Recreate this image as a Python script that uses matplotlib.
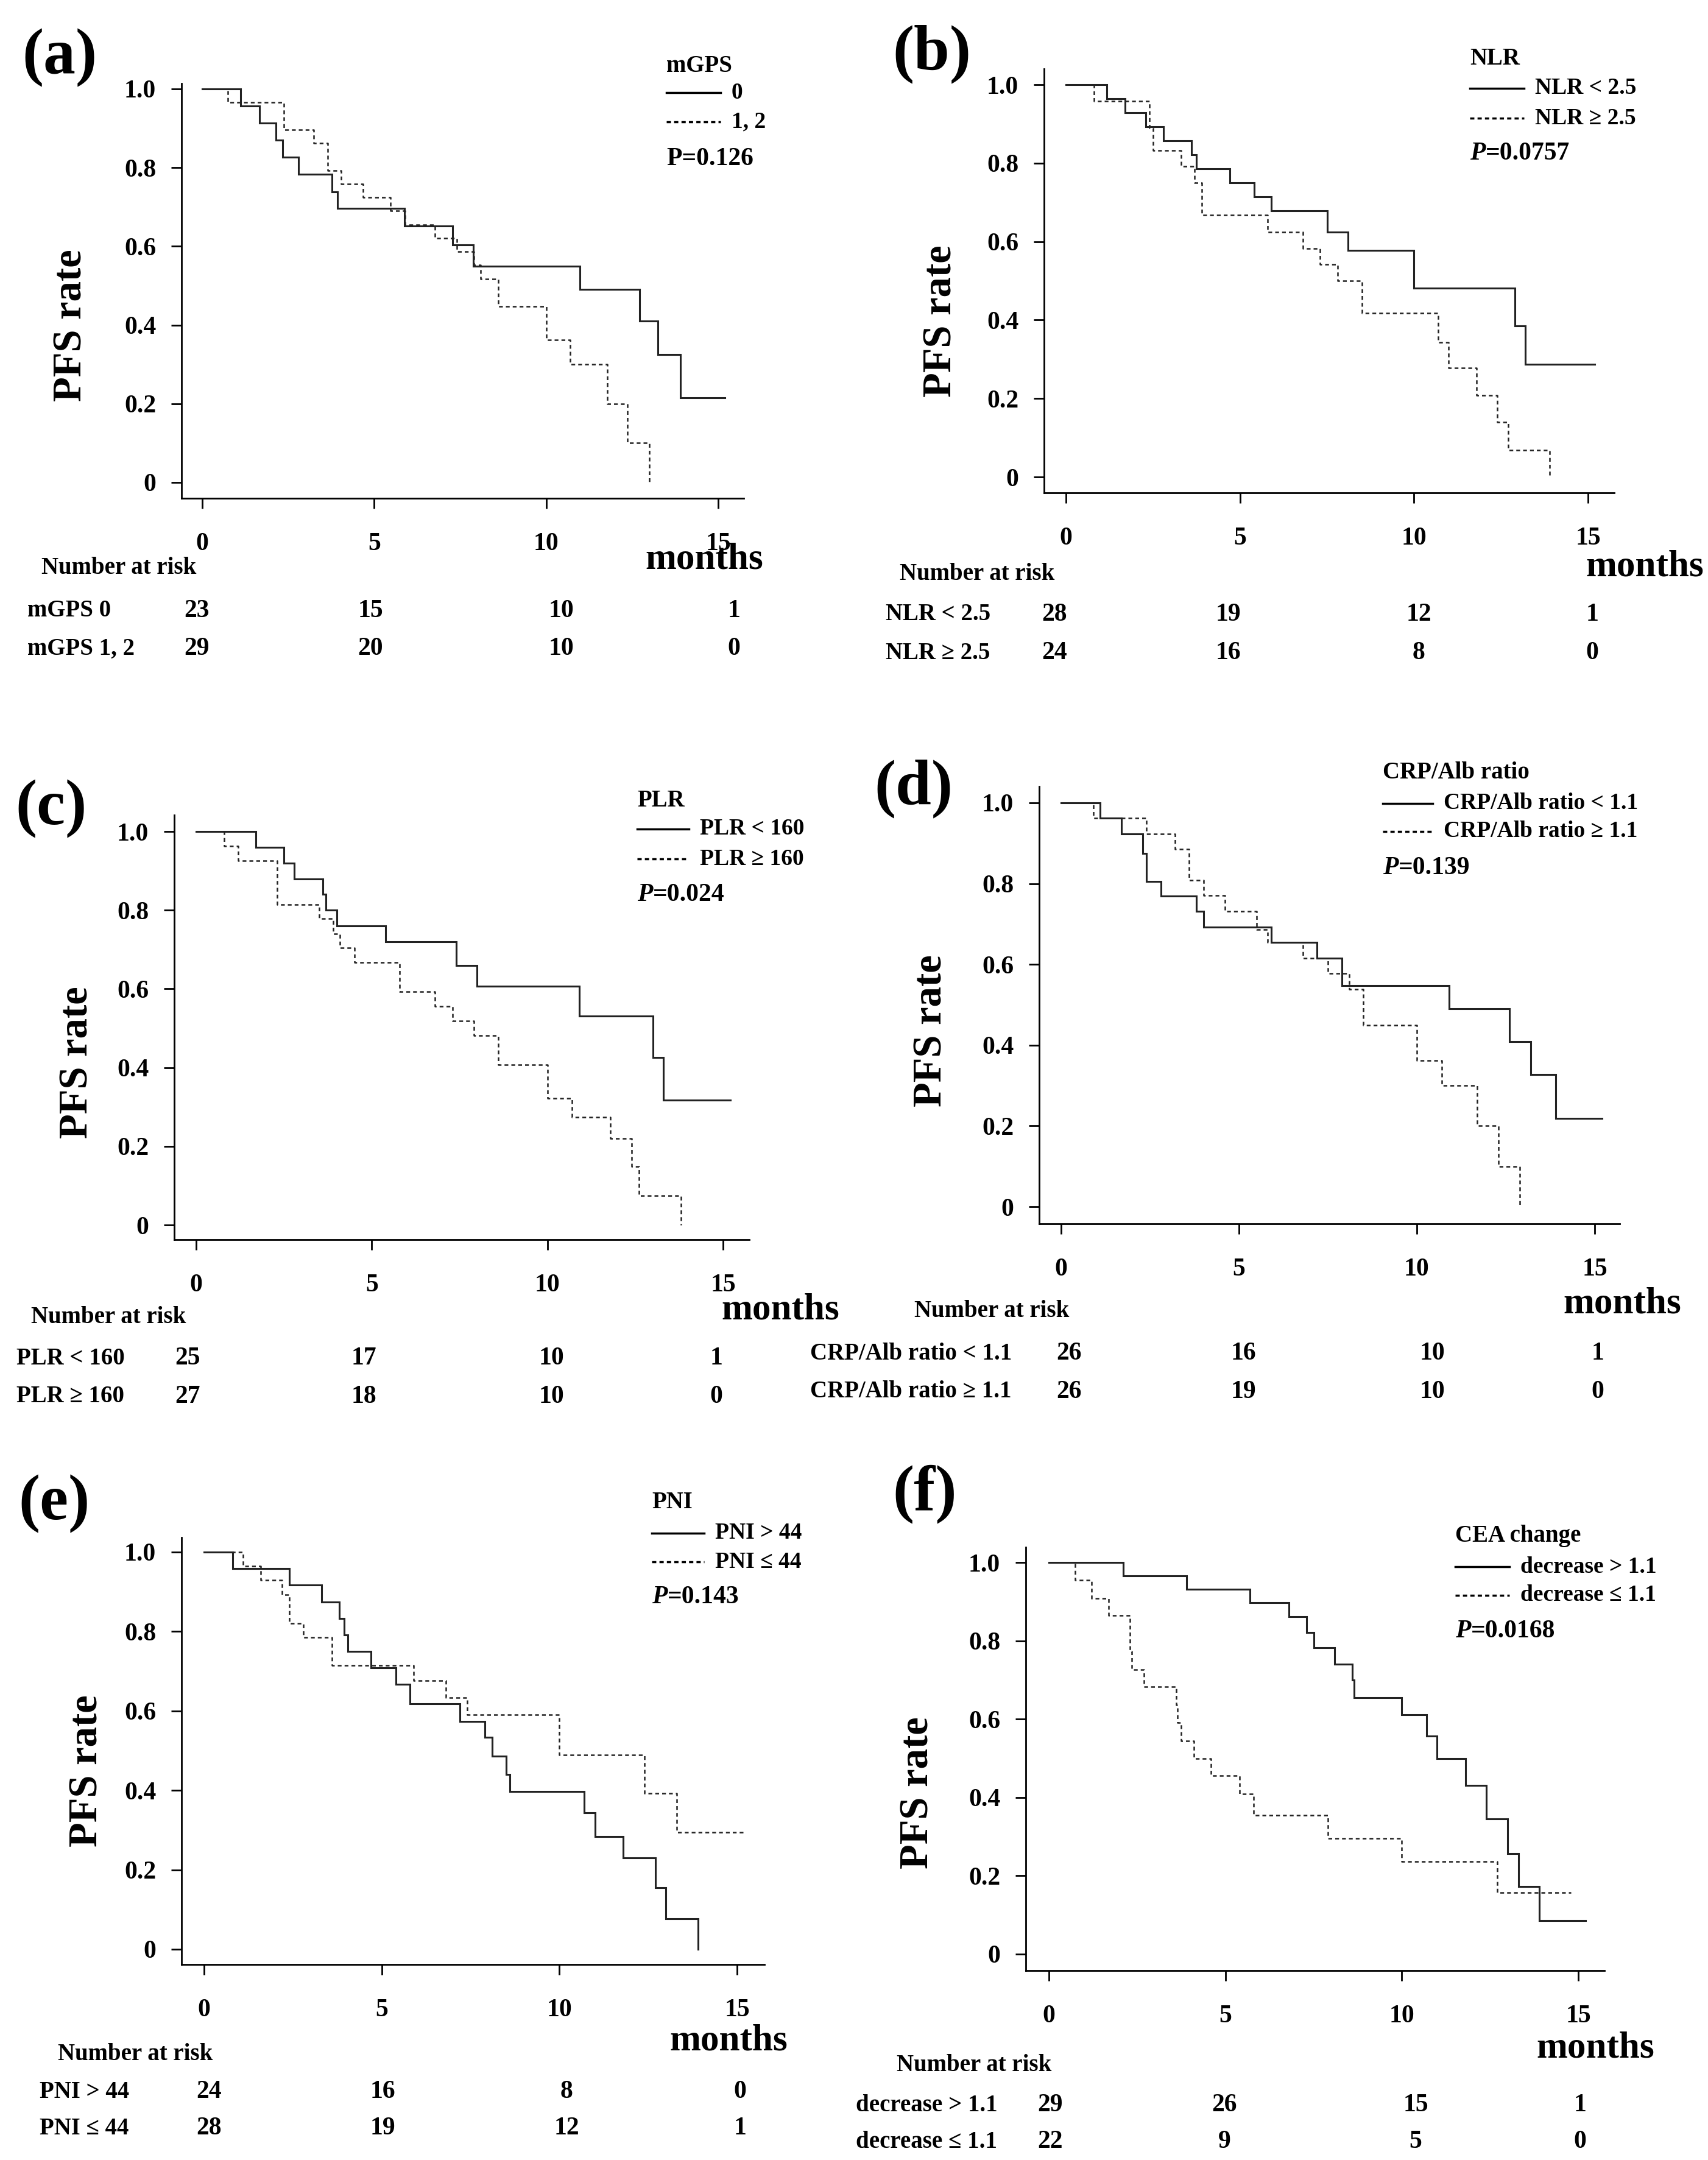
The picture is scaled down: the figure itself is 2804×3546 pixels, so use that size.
import matplotlib
matplotlib.use('Agg')
import matplotlib.pyplot as plt
from matplotlib.lines import Line2D

plt.rcParams['font.family'] = ['Liberation Serif', 'DejaVu Serif']
plt.rcParams['font.weight'] = 'bold'

W, H = 2804, 3546

# ---- survival step data: (event times, survival after each event) ----
a_solid_t = [1.12, 1.67, 2.15, 2.34, 2.8, 3.78, 3.94, 5.88, 7.28, 7.88, 10.98, 12.72, 13.25, 13.9]
a_solid_s = [0.957, 0.913, 0.87, 0.826, 0.783, 0.739, 0.696, 0.652, 0.604, 0.55, 0.49, 0.41, 0.325, 0.215]
a_solid_end = 15.2
a_dash_t = [0.75, 2.37, 3.24, 3.64, 4.04, 4.68, 5.48, 5.9, 6.76, 7.4, 7.9, 8.1, 8.6, 10.0, 10.69, 11.78, 12.37, 13.0]
a_dash_s = [0.966, 0.897, 0.862, 0.793, 0.759, 0.724, 0.69, 0.655, 0.62, 0.586, 0.552, 0.517, 0.448, 0.362, 0.3, 0.2, 0.1, 0.0]
a_dash_end = 13.0

b_solid_t = [1.18, 1.7, 2.3, 2.8, 3.6, 3.75, 4.7, 5.4, 5.9, 7.5, 8.1, 10.0, 12.9, 13.2]
b_solid_s = [0.964, 0.929, 0.893, 0.857, 0.821, 0.786, 0.75, 0.714, 0.679, 0.624, 0.577, 0.481, 0.385, 0.288]
b_solid_end = 15.2
b_dash_t = [0.8, 2.4, 2.5, 3.3, 3.7, 3.9, 5.8, 6.8, 7.3, 7.8, 8.5, 10.7, 11.0, 11.8, 12.4, 12.7, 13.9]
b_dash_s = [0.958, 0.889, 0.833, 0.792, 0.75, 0.667, 0.625, 0.583, 0.542, 0.5, 0.417, 0.343, 0.278, 0.208, 0.139, 0.069, 0.0]
b_dash_end = 13.9

c_solid_t = [1.7, 2.5, 2.8, 3.6, 3.7, 4.0, 5.4, 7.4, 8.0, 10.9, 13.0, 13.3]
c_solid_s = [0.96, 0.92, 0.88, 0.84, 0.80, 0.76, 0.72, 0.659, 0.607, 0.531, 0.425, 0.318]
c_solid_end = 15.2
c_dash_t = [0.8, 1.2, 2.3, 3.5, 3.9, 4.1, 4.5, 5.8, 6.8, 7.3, 7.9, 8.6, 10.0, 10.7, 11.8, 12.4, 12.6, 13.8]
c_dash_s = [0.963, 0.926, 0.815, 0.778, 0.74, 0.704, 0.667, 0.593, 0.556, 0.519, 0.481, 0.407, 0.322, 0.274, 0.22, 0.148, 0.074, 0.0]
c_dash_end = 13.8

d_solid_t = [1.1, 1.7, 2.3, 2.4, 2.8, 3.8, 4.0, 5.9, 7.2, 7.9, 10.9, 12.6, 13.2, 13.9]
d_solid_s = [0.962, 0.923, 0.875, 0.806, 0.769, 0.731, 0.692, 0.654, 0.615, 0.547, 0.49, 0.408, 0.327, 0.218]
d_solid_end = 15.2
d_dash_t = [0.9, 2.4, 3.2, 3.6, 4.0, 4.6, 5.5, 5.8, 6.8, 7.5, 8.1, 8.5, 10.0, 10.7, 11.7, 12.3, 12.9]
d_dash_s = [0.962, 0.923, 0.885, 0.808, 0.77, 0.731, 0.686, 0.654, 0.615, 0.577, 0.538, 0.45, 0.362, 0.3, 0.2, 0.1, 0.0]
d_dash_end = 12.9

e_solid_t = [0.8, 2.4, 3.3, 3.8, 3.95, 4.05, 4.7, 5.4, 5.8, 7.2, 7.9, 8.1, 8.5, 8.6, 10.7, 11.0, 11.8, 12.7, 13.0, 13.9]
e_solid_s = [0.958, 0.917, 0.875, 0.833, 0.792, 0.75, 0.708, 0.667, 0.618, 0.574, 0.533, 0.486, 0.44, 0.397, 0.343, 0.284, 0.23, 0.155, 0.077, 0.0]
e_solid_end = 13.9
e_dash_t = [1.1, 1.6, 2.2, 2.4, 2.8, 3.6, 5.9, 6.8, 7.4, 10.0, 12.4, 13.3]
e_dash_s = [0.964, 0.929, 0.893, 0.821, 0.786, 0.714, 0.676, 0.633, 0.59, 0.49, 0.393, 0.295]
e_dash_end = 15.2

f_solid_t = [2.1, 3.9, 5.7, 6.8, 7.3, 7.5, 8.1, 8.6, 8.65, 10.0, 10.7, 11.0, 11.8, 12.4, 13.0, 13.3, 13.9]
f_solid_s = [0.966, 0.931, 0.897, 0.862, 0.821, 0.782, 0.74, 0.70, 0.655, 0.611, 0.557, 0.5, 0.431, 0.345, 0.256, 0.172, 0.086]
f_solid_end = 15.2
f_dash_t = [0.75, 1.2, 1.7, 2.3, 2.35, 2.7, 3.6, 3.65, 3.75, 4.1, 4.6, 5.4, 5.8, 7.9, 10.0, 12.7]
f_dash_s = [0.955, 0.909, 0.864, 0.773, 0.727, 0.682, 0.636, 0.591, 0.545, 0.5, 0.455, 0.409, 0.355, 0.295, 0.236, 0.157]
f_dash_end = 14.8

# ---- text ----
letters = ['(a)', '(b)', '(c)', '(d)', '(e)', '(f)']
leg_titles = ['mGPS', 'NLR', 'PLR', 'CRP/Alb ratio', 'PNI', 'CEA change']
leg_solid = ['0', 'NLR < 2.5', 'PLR < 160', 'CRP/Alb ratio < 1.1', 'PNI > 44', 'decrease > 1.1']
leg_dash = ['1, 2', 'NLR \u2265 2.5', 'PLR \u2265 160', 'CRP/Alb ratio \u2265 1.1', 'PNI \u2264 44', 'decrease \u2264 1.1']
p_values = ['0.126', '0.0757', '0.024', '0.139', '0.143', '0.0168']
risk_row1 = ['mGPS 0', 'NLR < 2.5', 'PLR < 160', 'CRP/Alb ratio < 1.1', 'PNI > 44', 'decrease > 1.1']
risk_row2 = ['mGPS 1, 2', 'NLR \u2265 2.5', 'PLR \u2265 160', 'CRP/Alb ratio \u2265 1.1', 'PNI \u2264 44', 'decrease \u2264 1.1']
risk_n1 = [[23, 15, 10, 1], [28, 19, 12, 1], [25, 17, 10, 1], [26, 16, 10, 1], [24, 16, 8, 0], [29, 26, 15, 1]]
risk_n2 = [[29, 20, 10, 0], [24, 16, 8, 0], [27, 18, 10, 0], [26, 19, 10, 0], [28, 19, 12, 1], [22, 9, 5, 0]]

curves = [
    (a_solid_t, a_solid_s, a_solid_end, a_dash_t, a_dash_s, a_dash_end),
    (b_solid_t, b_solid_s, b_solid_end, b_dash_t, b_dash_s, b_dash_end),
    (c_solid_t, c_solid_s, c_solid_end, c_dash_t, c_dash_s, c_dash_end),
    (d_solid_t, d_solid_s, d_solid_end, d_dash_t, d_dash_s, d_dash_end),
    (e_solid_t, e_solid_s, e_solid_end, e_dash_t, e_dash_s, e_dash_end),
    (f_solid_t, f_solid_s, f_solid_end, f_dash_t, f_dash_s, f_dash_end),
]

# ---- layout in output pixels ----
# spine_x, x0, x15, y1, y0, bottom, top, right
axes_px = [
    (298, 332, 1179, 146, 792, 818, 137, 1221),
    (1714, 1750, 2607, 139, 783, 809, 113, 2650),
    (286, 322, 1187, 1365, 2011, 2035, 1338, 1230),
    (1706, 1742, 2618, 1318, 1981, 2009, 1291, 2659),
    (298, 335, 1210, 2548, 3200, 3225, 2524, 1255),
    (1684, 1722, 2591, 2565, 3208, 3235, 2540, 2634),
]
letter_px = [(36, 95), (1465, 89), (25, 1328), (1435, 1295), (30, 2469), (1465, 2453)]
legend_px = [(1094, 108), (2413, 96), (1046, 1315), (2270, 1269), (1070, 2467), (2389, 2521)]
legend_line_len = [89, 89, 85, 82, 86, 89]
legend_dy = [(44, 92, 153), (49, 98, 156), (46, 95, 154), (50, 96, 156), (50, 97, 155), (51, 98, 157)]
ylabel_px = [(117, 534), (1545, 527), (127, 1744), (1529, 1692), (143, 2907), (1507, 2943)]
months_px = [(1156, 918), (2700, 931), (1281, 2150), (2663, 2140), (1196, 3350), (2619, 3362)]
header_px = [(68, 933), (1477, 942), (51, 2163), (1501, 2152), (95, 3372), (1472, 3390)]
rows_y = [(1003, 1065), (1009, 1072), (2230, 2293), (2222, 2285), (3434, 3494), (3456, 3516)]
row_label_x = [45, 1454, 27, 1330, 65, 1405]
num_x = [(323, 608, 921, 1205), (1731, 2016, 2329, 2614), (308, 597, 905, 1176),
         (1755, 2041, 2352, 2623), (343, 628, 930, 1215), (1724, 2010, 2324, 2594)]


def fx(x):
    return x / W


def fy(y):
    return 1 - y / H


def steps(t, s, end):
    xs, ys = [0.0], [1.0]
    for ti, si in zip(t, s):
        xs += [ti, ti]
        ys += [ys[-1], si]
    if end > xs[-1]:
        xs.append(end)
        ys.append(ys[-1])
    return xs, ys


fig = plt.figure(figsize=(W / 100, H / 100), dpi=100)
small = 28

for i in range(6):
    sp, x0, x15, y1, y0, bot, top, right = axes_px[i]
    ppm = (x15 - x0) / 15
    ppu = y0 - y1
    ax = fig.add_axes([fx(sp), fy(bot), (right - sp) / W, (bot - top) / H])
    ax.set_xlim((sp - x0) / ppm, (right - x0) / ppm)
    ax.set_ylim((y0 - bot) / ppu, (y0 - top) / ppu)
    for s in ['top', 'right']:
        ax.spines[s].set_visible(False)
    for s in ['left', 'bottom']:
        ax.spines[s].set_linewidth(2)
    ax.set_xticks([0, 5, 10, 15])
    ax.set_yticks([0, 0.2, 0.4, 0.6, 0.8, 1.0])
    ax.set_yticklabels(['0', '0.2', '0.4', '0.6', '0.8', '1.0'])
    ax.tick_params(axis='both', labelsize=30, width=2, length=12, direction='out')
    ax.tick_params(axis='x', pad=28)
    ax.tick_params(axis='y', pad=18)

    st, ss, se, dt, ds, de = curves[i]
    xs, ys = steps(st, ss, se)
    ax.plot(xs, ys, color='#222222', lw=2.2, solid_joinstyle='miter')
    xs, ys = steps(dt, ds, de)
    ax.plot(xs, ys, color='#222222', lw=1.8, ls=(0, (2.5, 2)))

    fig.text(fx(letter_px[i][0]), fy(letter_px[i][1]), letters[i], fontsize=76,
             ha='left', va='center')
    fig.text(fx(ylabel_px[i][0]), fy(ylabel_px[i][1]), 'PFS rate', fontsize=48,
             rotation=90, ha='center', va='center')
    fig.text(fx(months_px[i][0]), fy(months_px[i][1]), 'months', fontsize=44,
             ha='center', va='center')

    # legend
    lx, ly = legend_px[i]
    d1, d2, dp = legend_dy[i]
    L = legend_line_len[i]
    fig.text(fx(lx), fy(ly), leg_titles[i], fontsize=small, ha='left', va='center')
    fig.add_artist(Line2D([fx(lx), fx(lx + L)], [fy(ly + d1)] * 2, color='black', lw=2.5))
    fig.add_artist(Line2D([fx(lx), fx(lx + L)], [fy(ly + d2)] * 2, color='black', lw=2.5,
                          ls=(0, (2, 1.5))))
    fig.text(fx(lx + L + 18), fy(ly + d1), leg_solid[i], fontsize=small - 1, ha='left', va='center')
    fig.text(fx(lx + L + 18), fy(ly + d2), leg_dash[i], fontsize=small - 1, ha='left', va='center')
    if i == 0:
        fig.text(fx(lx), fy(ly + dp), 'P=' + p_values[i], fontsize=small + 2, ha='left', va='center')
    else:
        fig.text(fx(lx), fy(ly + dp), 'P', fontsize=small + 2, style='italic', ha='left', va='center')
        fig.text(fx(lx + 26), fy(ly + dp), '=' + p_values[i], fontsize=small + 2, ha='left', va='center')

    # number at risk
    hx, hy = header_px[i]
    fig.text(fx(hx), fy(hy), 'Number at risk', fontsize=small, ha='left', va='center')
    r1, r2 = rows_y[i]
    fig.text(fx(row_label_x[i]), fy(r1), risk_row1[i], fontsize=small, ha='left', va='center')
    fig.text(fx(row_label_x[i]), fy(r2), risk_row2[i], fontsize=small, ha='left', va='center')
    for k in range(4):
        fig.text(fx(num_x[i][k]), fy(r1), str(risk_n1[i][k]), fontsize=small + 2, ha='center', va='center')
        fig.text(fx(num_x[i][k]), fy(r2), str(risk_n2[i][k]), fontsize=small + 2, ha='center', va='center')

fig.savefig('out.png', dpi=100, facecolor='white')
